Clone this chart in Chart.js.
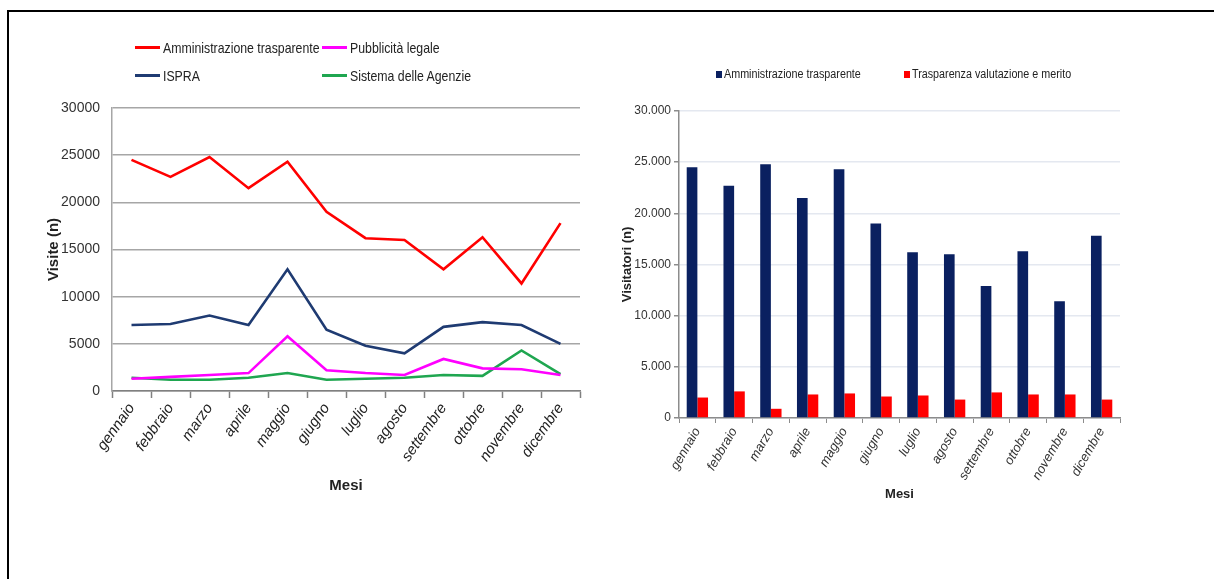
<!DOCTYPE html>
<html>
<head>
<meta charset="utf-8">
<script src="https://cdn.jsdelivr.net/npm/chart.js"></script>
<style>
  body { margin: 0; width: 1214px; height: 579px; background: #fff; overflow: hidden; position: relative; }
  #frame { position: absolute; left: 7px; top: 10px; width: 1230px; height: 620px; border-top: 2px solid #000; border-left: 2px solid #000; }
  canvas { position: absolute; top: 0; }
  .legend { position: absolute; display: grid; font-family: 'Liberation Sans', Arial, sans-serif; color: #222; }
  .legend .item { display: flex; align-items: center; white-space: nowrap; }
  .legend .swatch { flex-shrink: 0; }
  .legend .txt { display: inline-block; transform-origin: 0 50%; }
  #legendVisite { left: 135px; top: 33px; grid-template-columns: 187px auto; grid-auto-rows: 28px; font-size: 15px; }
  #legendVisite .swatch { width: 25px; height: 3px; margin-right: 3px; }
  #legendVisite .txt { transform: scaleX(0.82); }
  #legendVisitatori { left: 716px; top: 66px; grid-template-columns: 188px auto; grid-auto-rows: 16px; font-size: 12.5px; }
  #legendVisitatori .swatch { width: 6px; height: 7px; margin-right: 2px; }
  #legendVisitatori .txt { transform: scaleX(0.86); }
</style>
</head>
<body>
<div id="frame"></div>
<canvas id="visite" width="600" height="579" style="left:0"></canvas>
<canvas id="visitatori" width="614" height="579" style="left:600px"></canvas>
<div id="legendVisite" class="legend"></div>
<div id="legendVisitatori" class="legend"></div>
<script>
const mesi = ['gennaio', 'febbraio', 'marzo', 'aprile', 'maggio', 'giugno',
  'luglio', 'agosto', 'settembre', 'ottobre', 'novembre', 'dicembre'];

// visite per sezione (grafico a linee)
const visiteAmministrazione = [24500, 22700, 24800, 21500, 24300, 19000, 16200, 16000, 12900, 16300, 11400, 17800];
const visitePubblicita = [1300, 1500, 1700, 1900, 5800, 2200, 1900, 1700, 3400, 2400, 2300, 1700];
const visiteIspra = [7000, 7100, 8000, 7000, 12900, 6500, 4800, 4000, 6800, 7300, 7000, 5000];
const visiteAgenzie = [1400, 1200, 1200, 1400, 1900, 1200, 1300, 1400, 1700, 1600, 4300, 1800];

// visitatori (grafico a barre)
const visitatoriAmministrazione = [24500, 22700, 24800, 21500, 24300, 19000, 16200, 16000, 12900, 16300, 11400, 17800];
const visitatoriValutazione = [2000, 2600, 900, 2300, 2400, 2100, 2200, 1800, 2500, 2300, 2300, 1800];

const sans = "'Liberation Sans', Arial, sans-serif";

function puntoMigliaia(v) {
  return String(v).replace(/\B(?=(\d{3})+(?!\d))/g, '.');
}

// legenda html costruita dai dataset del grafico
function legenda(el, chart) {
  chart.data.datasets.forEach(ds => {
    const item = document.createElement('div');
    item.className = 'item';
    const sw = document.createElement('span');
    sw.className = 'swatch';
    sw.style.background = ds.borderColor || ds.backgroundColor;
    const txt = document.createElement('span');
    txt.className = 'txt';
    txt.textContent = ds.label;
    item.appendChild(sw);
    item.appendChild(txt);
    el.appendChild(item);
  });
}

const graficoVisite = new Chart(document.getElementById('visite'), {
  type: 'line',
  data: {
    labels: mesi,
    datasets: [
      { label: 'Amministrazione trasparente', data: visiteAmministrazione, borderColor: '#ff0000' },
      { label: 'Pubblicità legale', data: visitePubblicita, borderColor: '#ff00ff' },
      { label: 'ISPRA', data: visiteIspra, borderColor: '#1f3b72' },
      { label: 'Sistema delle Agenzie', data: visiteAgenzie, borderColor: '#1fa650' }
    ]
  },
  options: {
    responsive: false,
    animation: false,
    layout: { padding: { left: 30, top: 108, right: 20, bottom: 78 } },
    elements: { line: { borderWidth: 2.6, tension: 0 }, point: { radius: 0 } },
    plugins: { legend: { display: false }, tooltip: { enabled: false } },
    scales: {
      x: {
        offset: true,
        grid: { offset: true, drawOnChartArea: false, tickLength: 7, tickColor: '#808080', tickWidth: 1.5 },
        border: { color: '#808080', width: 1.5 },
        ticks: { autoSkip: false, minRotation: 55, maxRotation: 55, padding: 2, color: '#222',
          font: { family: sans, size: 15, style: 'italic' } },
        title: { display: true, text: 'Mesi', color: '#222', padding: { top: 0, bottom: 6 },
          font: { family: sans, size: 15, weight: 'bold' } },
        afterFit(s) { s.height = 110; }
      },
      y: {
        min: 0, max: 30000,
        ticks: { stepSize: 5000, padding: 12, color: '#333', callback: v => String(v),
          font: { family: sans, size: 14 } },
        grid: { color: '#a6a6a6', lineWidth: 1.5, drawTicks: false },
        border: { color: '#a6a6a6', width: 1.5 },
        title: { display: true, text: 'Visite (n)', color: '#222', padding: { top: 15, bottom: 0 },
          font: { family: sans, size: 15, weight: 'bold' } },
        afterFit(s) { s.width = 82; }
      }
    }
  }
});

const graficoVisitatori = new Chart(document.getElementById('visitatori'), {
  type: 'bar',
  data: {
    labels: mesi,
    datasets: [
      { label: 'Amministrazione trasparente', data: visitatoriAmministrazione, backgroundColor: '#0a2060' },
      { label: 'Trasparenza valutazione e merito', data: visitatoriValutazione, backgroundColor: '#ff0000' }
    ]
  },
  options: {
    responsive: false,
    animation: false,
    layout: { padding: { left: 10, top: 111, right: 94, bottom: 61 } },
    datasets: { bar: { categoryPercentage: 0.58, barPercentage: 1 } },
    plugins: { legend: { display: false }, tooltip: { enabled: false } },
    scales: {
      x: {
        grid: { offset: true, drawOnChartArea: false, tickLength: 5, tickColor: '#8c8c8c' },
        border: { color: '#8c8c8c', width: 1.5 },
        ticks: { autoSkip: false, minRotation: 60, maxRotation: 60, padding: 2, color: '#333',
          font: { family: sans, size: 13, style: 'italic' } },
        title: { display: true, text: 'Mesi', color: '#222', padding: { top: 0, bottom: 16 },
          font: { family: sans, size: 13, weight: 'bold' } },
        afterFit(s) { s.height = 100; }
      },
      y: {
        min: 0, max: 30000,
        ticks: { stepSize: 5000, padding: 3, color: '#333', callback: v => puntoMigliaia(v),
          font: { family: sans, size: 12 } },
        grid: { color: '#e4e8f0', lineWidth: 1.5, tickLength: 5, tickColor: '#8c8c8c' },
        border: { color: '#8c8c8c', width: 1.5 },
        title: { display: true, text: 'Visitatori (n)', color: '#222', padding: { top: 10, bottom: 0 },
          font: { family: sans, size: 13, weight: 'bold' } },
        afterFit(s) { s.width = 69; }
      }
    }
  }
});

legenda(document.getElementById('legendVisite'), graficoVisite);
legenda(document.getElementById('legendVisitatori'), graficoVisitatori);
</script>
</body>
</html>
